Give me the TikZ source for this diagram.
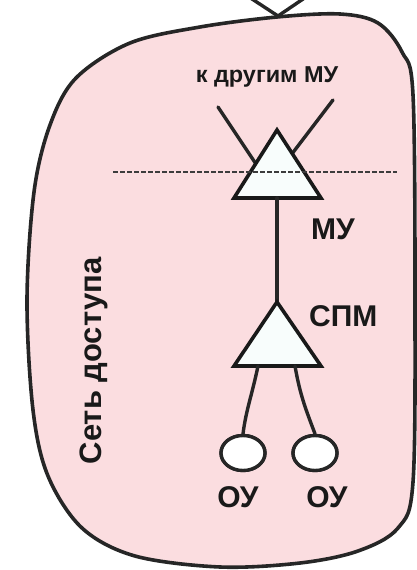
\documentclass[tikz,border=0pt]{standalone}
\usepackage{fontspec}
\setmainfont{Liberation Sans}
\usetikzlibrary{shapes.geometric}
\definecolor{blobpink}{RGB}{251,221,224}
\definecolor{trifill}{RGB}{248,253,252}
\definecolor{dashgray}{RGB}{60,60,60}
\tikzset{
  outline/.style={line width=3.6pt, line join=round, line cap=round, draw=black!85},
  wire/.style={line width=3.4pt, line cap=round, draw=black!85},
  tri/.style={line width=3.6pt, line join=miter, draw=black!90, fill=trifill},
  endnode/.style={ellipse, minimum width=44pt, minimum height=35pt, inner sep=0pt, line width=3.4pt, draw=black!85, fill=white},
  lbl/.style={font=\bfseries\fontsize{30}{30}\selectfont, inner sep=0pt, text=black!90},
  sectionline/.style={line width=2.6pt, draw=dashgray, dash pattern=on 5pt off 2pt}
}
\begin{document}
\begin{tikzpicture}[x=1pt,y=-1pt]
\useasboundingbox (0,0) rectangle (417,570);
% access network blob
\draw[outline, fill=blobpink] plot[smooth cycle, tension=0.55] coordinates {
 (277,17) (340,14) (378,23) (402,52) (413,95) (415,300) (413,482)
 (398,528) (358,551) (300,563) (220,567) (135,556) (82,528) (48,476)
 (33,410) (27,300) (34,192) (50,125) (76,78) (130,43) (200,27)};
% top links
\coordinate (top) at (278,16);
\coordinate (upL) at (249,-3);
\coordinate (upR) at (306,-3);
\draw[wire] (upL) -- (top);
\draw[wire] (upR) -- (top);
% links to other MU
\coordinate (otherL) at (218,107);
\coordinate (otherR) at (333,100);
\coordinate (crossL) at (262,173);
\coordinate (crossR) at (285,163);
\draw[wire] (otherL) -- (crossL);
\draw[wire] (otherR) -- (crossR);
% MU triangle
\coordinate (muA) at (277,130);
\coordinate (muL) at (234,198);
\coordinate (muR) at (321,198);
\draw[tri] (muA) -- (muL) -- (muR) -- cycle;
\coordinate (muB) at (277,198);
% dashed boundary
\coordinate (dashL) at (113,172);
\coordinate (dashR) at (397,172);
\draw[sectionline] (dashL) -- (dashR);
% SPM triangle
\coordinate (spmA) at (277,302);
\coordinate (spmL) at (234,366);
\coordinate (spmR) at (321,366);
\draw[wire] (muB) -- (spmA);
\draw[tri] (spmA) -- (spmL) -- (spmR) -- cycle;
\coordinate (spmBL) at (258,366);
\coordinate (spmBR) at (295,366);
% terminal devices
\node[endnode] (ou1) at (243,453) {};
\node[endnode] (ou2) at (315,453) {};
\draw[wire] (spmBL) .. controls (252,395) and (246,410) .. (ou1.north);
\draw[wire] (spmBR) .. controls (300,395) and (306,410) .. (ou2.north);
\node[endnode] at (ou1) {};
\node[endnode] at (ou2) {};
% labels
\node[lbl, font=\bfseries\fontsize{23}{24}\selectfont, xscale=1.02] (lblother) at (267,77) {к другим МУ};
\node[lbl, anchor=west] (lblmu) at (311,229) {МУ};
\node[lbl, anchor=west] (lblspm) at (309,316) {СПМ};
\node[lbl] (lblou1) at (238,497) {ОУ};
\node[lbl] (lblou2) at (327,497) {ОУ};
\node[lbl, font=\bfseries\fontsize{31}{31}\selectfont, rotate=90, anchor=base] (lblnet) at (101,361) {Сеть доступа};
\end{tikzpicture}
\end{document}
